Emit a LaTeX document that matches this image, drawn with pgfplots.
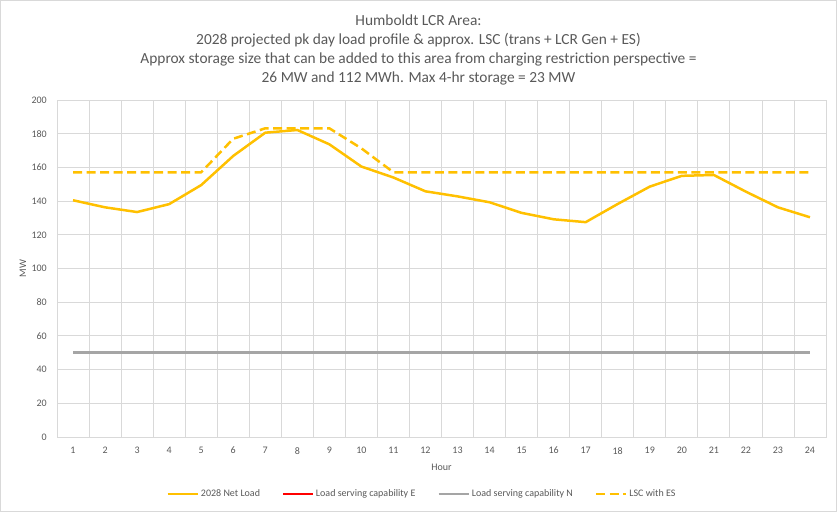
\documentclass[border=0pt]{standalone}
\usepackage{pgfplots}
\pgfplotsset{compat=1.18}
\usepackage{pgfplotstable}
\usepackage{fontspec}
\setmainfont{Carlito}
\definecolor{txt}{HTML}{595959}
\definecolor{gridc}{HTML}{D9D9D9}
\definecolor{yel}{HTML}{FFC000}
\definecolor{gry}{HTML}{A5A5A5}
\definecolor{frame}{HTML}{D9D9D9}
\pgfplotstableread{
h net lscE lscN lscES
1 140.5 50 50 157.1
2 136.3 50 50 157.1
3 133.5 50 50 157.1
4 138.2 50 50 157.1
5 149.5 50 50 157.1
6 166.8 50 50 177.0
7 180.6 50 50 183.2
8 182.2 50 50 183.2
9 173.7 50 50 183.2
10 160.5 50 50 171.3
11 154.0 50 50 157.1
12 145.8 50 50 157.1
13 142.8 50 50 157.1
14 139.3 50 50 157.1
15 133.0 50 50 157.1
16 129.2 50 50 157.1
17 127.5 50 50 157.1
18 138.3 50 50 157.1
19 148.6 50 50 157.1
20 155.0 50 50 157.1
21 155.5 50 50 157.1
22 145.6 50 50 157.1
23 136.3 50 50 157.1
24 130.4 50 50 157.1
}\datatable
\begin{document}
\begin{tikzpicture}
\useasboundingbox (0,0) rectangle (837bp,512bp);
\draw[frame, line width=1bp] (0.5bp,0.5bp) rectangle (836.5bp,511.5bp);
\node[align=center, text=txt, font=\fontsize{15.4bp}{19bp}\selectfont] at (418.5bp,462.5bp)
{Humboldt LCR Area:\\2028 projected pk day load profile \& approx. LSC (trans + LCR Gen + ES)\\Approx storage size that can be added to this area from charging restriction perspective =\\26 MW and 112 MWh. Max 4-hr storage = 23 MW};
\begin{axis}[
  at={(57bp,75bp)}, anchor=south west,
  scale only axis, width=769bp, height=337bp,
  xmin=0.5, xmax=24.5, ymin=0, ymax=200,
  xtick={1,...,24}, ytick={0,20,...,200},
  minor xtick={0.5,1.5,...,24.5},
  xminorgrids=true, ymajorgrids=true, xmajorgrids=false,
  grid style={gridc, line width=0.8bp},
  minor grid style={gridc, line width=0.8bp},
  major tick length=0pt, minor tick length=0pt,
  axis line style={gridc, line width=0.8bp},
  /pgf/number format/assume math mode=true,
  tick label style={text=txt, font=\fontsize{10bp}{12bp}\selectfont},
  yticklabel style={inner sep=0pt, xshift=-10bp},
  xticklabel style={inner sep=0pt, yshift=-10bp},
  xlabel={Hour}, ylabel={MW},
  label style={text=txt, font=\fontsize{10bp}{12bp}\selectfont},
  xlabel style={at={(rel axis cs:0.5,-0.089)}, anchor=center},
  ylabel style={at={(rel axis cs:-0.0442,0.5)}, anchor=center},
  legend columns=4,
  legend style={at={(rel axis cs:0.4746,-0.169)}, anchor=center, draw=none,
    font=\fontsize{10bp}{12bp}\selectfont, text=txt,
    /tikz/every even column/.append style={column sep=20bp}},
  legend cell align=left,
  legend image code/.code={\draw[#1] (0bp,0bp) -- (30bp,0bp);},
]
\addplot[yel, line width=2.5bp, line join=round] table[x=h, y=net] {\datatable};
\addlegendentry{2028 Net Load}
\addplot[red, line width=2bp] table[x=h, y=lscE] {\datatable};
\addlegendentry{Load serving capability E}
\addplot[gry, line width=2.5bp] table[x=h, y=lscN] {\datatable};
\addlegendentry{Load serving capability N}
\addplot[yel, line width=2.5bp, dash pattern=on 9bp off 4.5bp, line join=round] table[x=h, y=lscES] {\datatable};
\addlegendentry{LSC with ES}
\end{axis}
\end{tikzpicture}
\end{document}
